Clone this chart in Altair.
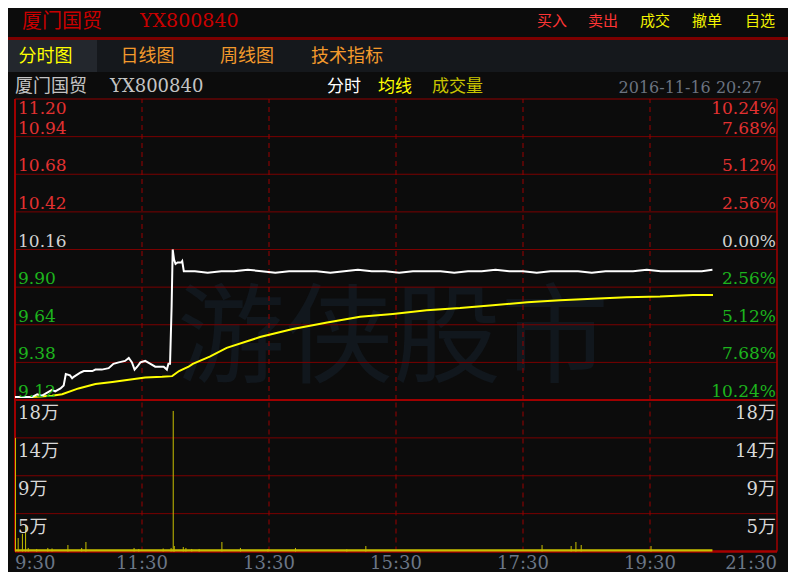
import altair as alt
import pandas as pd

# ---- values (time = minutes after 9:30) ----
stock_name = "厦门国贸"
stock_code = "YX800840"
actions = ["买入", "卖出", "成交", "撤单", "自选"]
tabs = ["分时图", "日线图", "周线图", "技术指标"]
legend_items = ["分时", "均线", "成交量"]
stamp = "2016-11-16 20:27"
watermark = "游侠股市"

price_min = [0, 16, 21, 25.5, 28, 35, 38, 43, 46, 48, 52, 54, 55.5, 62, 65, 73, 76,
             82, 88.5, 93, 98, 104, 107.5, 110.5, 113, 115.5, 118.5, 123, 128, 132.5,
             140.5, 143.5, 145, 146.5, 148, 149, 150.3, 151.7, 153.6, 157, 158, 159.5,
             170, 182, 195, 207, 220, 233, 246, 259, 272, 285, 298, 311, 324, 337,
             350, 363, 376, 389, 402, 415, 428, 441, 454, 467, 480, 493, 506, 519,
             532, 545, 558, 571, 584, 597, 610, 623, 636, 649, 659]
price_val = [9.14, 9.14, 9.16, 9.15, 9.16, 9.19, 9.18, 9.20, 9.22, 9.30, 9.29, 9.27,
             9.28, 9.31, 9.32, 9.32, 9.33, 9.33, 9.34, 9.37, 9.38, 9.39, 9.41, 9.38,
             9.33, 9.35, 9.38, 9.39, 9.37, 9.35, 9.35, 9.33, 9.37, 9.37, 9.77, 10.16,
             10.09, 10.06, 10.07, 10.07, 10.08, 10.01,
             10.01, 10.00, 10.01, 10.01, 10.02, 10.01, 10.00, 10.01, 10.01, 10.01,
             10.00, 10.01, 10.02, 10.01, 10.01, 10.00, 10.01, 10.01, 10.01, 10.00,
             10.01, 10.01, 10.02, 10.01, 10.01, 10.00, 10.01, 10.01, 10.01, 10.00,
             10.01, 10.01, 10.01, 10.02, 10.01, 10.01, 10.01, 10.01, 10.02]

avg_min = [0, 16, 35, 44.5, 60, 76, 92, 107.5, 123, 139, 148.5, 155, 164, 168, 184,
           200, 231.5, 262.5, 295, 326, 357, 389, 420.5, 451.5, 484, 515, 546, 578,
           609.5, 640.5, 659.5]
avg_val = [9.14, 9.14, 9.15, 9.16, 9.20, 9.23, 9.245, 9.26, 9.275, 9.28, 9.285, 9.32,
           9.35, 9.37, 9.42, 9.48, 9.555, 9.61, 9.655, 9.695, 9.715, 9.74, 9.755,
           9.775, 9.795, 9.81, 9.82, 9.83, 9.835, 9.845, 9.845]

vol_min = [0.5, 3, 7, 10, 12.5, 20.5, 31, 35, 50, 63, 67, 112.5, 117, 140, 147.5,
           149.5, 150.5, 159, 161.5, 167, 174, 195.5, 213, 239, 265, 313.5, 331.5,
           498, 525.5, 530, 535, 601]
vol_val = [135000, 16000, 21000, 31500, 4200, 3000, 4200, 3600, 7700, 4200, 11300,
           4200, 3000, 3600, 4200, 167000, 6500, 5300, 4200, 3000, 3000, 11300, 4200,
           3000, 4200, 2600, 6500, 7700, 6500, 11300, 7700, 6500]
base_span = [0, 659]      # every minute traded a little
base_vol = 2800

price_ticks = [9.12, 9.38, 9.64, 9.90, 10.16, 10.42, 10.68, 10.94, 11.20]
pct_labels = ["10.24%", "7.68%", "5.12%", "2.56%", "0.00%",
              "2.56%", "5.12%", "7.68%", "10.24%"]
prev_close = 10.16
vol_ticks = [45000, 90000, 135000, 180000]
vol_labels = ["5万", "9万", "14万", "18万"]
time_ticks = [0, 120, 240, 360, 480, 600, 720]
time_labels = ["9:30", "11:30", "13:30", "15:30", "17:30", "19:30", "21:30"]

# ---- styling ----
CJK = "Noto Sans CJK SC"
NUM = "DejaVu Serif"
RED, GREEN, GREY = "#e23131", "#1db41d", "#d2d2d2"
GRID, FRAME = "#7a0000", "#a00000"

XS = alt.Scale(domain=[time_ticks[0], time_ticks[-1]], range=[7, 769], nice=False, zero=False)
PS = alt.Scale(domain=[price_ticks[0], price_ticks[-1]], range=[392, 91], nice=False, zero=False)
VS = alt.Scale(domain=[0, vol_ticks[-1]], range=[543.5, 392], nice=False, zero=False)


def X(f):
    return alt.X(f, type="quantitative", scale=XS, axis=None)


def PY(f):
    return alt.Y(f, type="quantitative", scale=PS, axis=None)


def VY(f):
    return alt.Y(f, type="quantitative", scale=VS, axis=None)


def label(s, x, y, color, size, font=CJK, align="left", weight="normal"):
    return alt.Chart(pd.DataFrame({"s": [s]})).mark_text(
        align=align, baseline="middle", color=color, fontSize=size, font=font,
        fontWeight=weight).encode(x=alt.value(x), y=alt.value(y), text="s:N")


def band(x0, x1, y0, y1, color):
    return alt.Chart(pd.DataFrame({"k": [0]})).mark_rect(color=color).encode(
        x=alt.value(x0), x2=alt.value(x1), y=alt.value(y0), y2=alt.value(y1))


pgrid = pd.DataFrame({"p": price_ticks, "pct": pct_labels,
                      "c": [RED if p > prev_close else GREEN if p < prev_close else GREY
                            for p in price_ticks],
                      "a": time_ticks[0], "b": time_ticks[-1]})
vgrid = pd.DataFrame({"v": vol_ticks, "lab": vol_labels,
                      "a": time_ticks[0], "b": time_ticks[-1]})
tdf = pd.DataFrame({"m": time_ticks, "lab": time_labels,
                    "p0": price_ticks[0], "p1": price_ticks[-1],
                    "v0": 0, "v1": vol_ticks[-1]})
price_df = pd.DataFrame({"m": price_min, "p": price_val})
avg_df = pd.DataFrame({"m": avg_min, "p": avg_val})
vol_df = pd.DataFrame({"m": vol_min, "v": vol_val, "z": 0})
base_df = pd.DataFrame({"a": [base_span[0]], "b": [base_span[1]], "z": [0], "v": [base_vol]})

layers = [
    band(0, 780, 29, 32, "#7d0000"),
    band(0, 780, 32, 64, "#15181c"),
    band(0, 89, 32, 64, "#23272d"),
    label(stock_name, 14, 14, "#c80000", 20),
    label(stock_code, 132, 13, "#c80000", 19, font=NUM),
]
for s, cx, col in zip(actions, [544, 595, 647, 699, 752],
                      ["#ff3535", "#ff3535", "#f2f200", "#f2f200", "#f2f200"]):
    layers.append(label(s, cx, 13, col, 15, align="center"))
for i, (s, cx) in enumerate(zip(tabs, [37.5, 139.5, 239, 339])):
    layers.append(label(s, cx, 49, "#ffff00" if i == 0 else "#f39a2c", 18, align="center"))
layers += [
    label(stock_name, 7, 79, "#c4c4c4", 18),
    label(stock_code, 102, 79, "#c4c4c4", 18, font=NUM),
    label(legend_items[0], 319, 79, "#ffffff", 17),
    label(legend_items[1], 370, 79, "#ffff00", 17),
    label(legend_items[2], 424, 79, "#c8c400", 17),
    label(stamp, 754, 80, "#6b7380", 16, font=NUM, align="right"),
    label(watermark, 385, 334, "#11171d", 108, align="center"),
]

# grid, dashed time lines and frame
layers += [
    alt.Chart(pgrid).mark_rule(color=GRID, strokeWidth=1).encode(
        x=X("a"), x2="b", y=PY("p")).transform_filter(
        f"datum.p > {price_ticks[0]} && datum.p < {price_ticks[-1]}"),
    alt.Chart(pgrid).mark_rule(color="#8f0000", strokeWidth=1.2).encode(
        x=X("a"), x2="b", y=PY("p")).transform_filter(f"datum.p >= {price_ticks[-1]}"),
    alt.Chart(vgrid).mark_rule(color=GRID, strokeWidth=1).encode(
        x=X("a"), x2="b", y=VY("v")).transform_filter(f"datum.v < {vol_ticks[-1]}"),
    alt.Chart(tdf).mark_rule(color="#9a0000", strokeWidth=1, strokeDash=[5, 4]).encode(
        x=X("m"), y=PY("p0"), y2="p1").transform_filter(
        f"datum.m > {time_ticks[0]} && datum.m < {time_ticks[-1]}"),
    alt.Chart(tdf).mark_rule(color="#9a0000", strokeWidth=1, strokeDash=[5, 4]).encode(
        x=X("m"), y=VY("v0"), y2="v1").transform_filter(
        f"datum.m > {time_ticks[0]} && datum.m < {time_ticks[-1]}"),
    alt.Chart(tdf).mark_rule(color=FRAME, strokeWidth=2).encode(
        x=X("m"), y=PY("p0"), y2="p1").transform_filter(f"datum.m == {time_ticks[0]}"),
    alt.Chart(tdf).mark_rule(color=FRAME, strokeWidth=2).encode(
        x=X("m"), y=VY("v0"), y2="v1").transform_filter(f"datum.m == {time_ticks[0]}"),
    alt.Chart(tdf).mark_rule(color=FRAME, strokeWidth=1.5).encode(
        x=X("m"), y=PY("p0"), y2="p1").transform_filter(f"datum.m == {time_ticks[-1]}"),
    alt.Chart(tdf).mark_rule(color=FRAME, strokeWidth=1.5).encode(
        x=X("m"), y=VY("v0"), y2="v1").transform_filter(f"datum.m == {time_ticks[-1]}"),
    alt.Chart(vgrid.assign(v=0)).mark_rule(color="#a80000", strokeWidth=2.5).encode(
        x=X("a"), x2="b", y=VY("v")).transform_filter("datum.lab == '18万'"),
]

# volume
layers += [
    alt.Chart(base_df).mark_rect(color="#c8c000").encode(
        x=X("a"), x2="b", y=VY("z"), y2="v"),
    alt.Chart(vol_df).mark_rule(color="#c8c000", strokeWidth=1).encode(
        x=X("m"), y=VY("v"), y2="z"),
    alt.Chart(pgrid).mark_rule(color=FRAME, strokeWidth=2).encode(
        x=X("a"), x2="b", y=PY("p")).transform_filter(f"datum.p <= {price_ticks[0]}"),
]

# price and average lines
layers += [
    alt.Chart(avg_df).mark_line(color="#ffff00", strokeWidth=2).encode(
        x=X("m"), y=PY("p")),
    alt.Chart(price_df).mark_line(color="#ffffff", strokeWidth=2).encode(
        x=X("m"), y=PY("p")),
]

# axis labels drawn inside the panels
num = dict(font=NUM, fontSize=17, baseline="alphabetic")
top = price_ticks[-1]
layers += [
    alt.Chart(pgrid).mark_text(align="left", dy=-3, **num).encode(
        x=alt.value(10), y=PY("p"), text=alt.Text("p:Q", format=".2f"),
        color=alt.Color("c:N", scale=None)).transform_filter(f"datum.p < {top}"),
    alt.Chart(pgrid).mark_text(align="left", dy=15, **num).encode(
        x=alt.value(10), y=PY("p"), text=alt.Text("p:Q", format=".2f"),
        color=alt.Color("c:N", scale=None)).transform_filter(f"datum.p >= {top}"),
    alt.Chart(pgrid).mark_text(align="right", dy=-3, **num).encode(
        x=alt.value(768), y=PY("p"), text="pct:N",
        color=alt.Color("c:N", scale=None)).transform_filter(f"datum.p < {top}"),
    alt.Chart(pgrid).mark_text(align="right", dy=15, **num).encode(
        x=alt.value(768), y=PY("p"), text="pct:N",
        color=alt.Color("c:N", scale=None)).transform_filter(f"datum.p >= {top}"),
    alt.Chart(vgrid).mark_text(align="left", dy=19, color="#d8d8d8", font=f"{NUM}, {CJK}",
                               fontSize=18, baseline="alphabetic").encode(
        x=alt.value(10), y=VY("v"), text="lab:N"),
    alt.Chart(vgrid).mark_text(align="right", dy=19, color="#d8d8d8", font=f"{NUM}, {CJK}",
                               fontSize=18, baseline="alphabetic").encode(
        x=alt.value(768), y=VY("v"), text="lab:N"),
]
tnum = dict(font=NUM, fontSize=18, baseline="middle", color="#6b7686")
layers += [
    alt.Chart(tdf).mark_text(align="left", **tnum).encode(
        x=X("m"), y=alt.value(556), text="lab:N").transform_filter(
        f"datum.m == {time_ticks[0]}"),
    alt.Chart(tdf).mark_text(align="center", **tnum).encode(
        x=X("m"), y=alt.value(556), text="lab:N").transform_filter(
        f"datum.m > {time_ticks[0]} && datum.m < {time_ticks[-1]}"),
    alt.Chart(tdf).mark_text(align="right", **tnum).encode(
        x=X("m"), y=alt.value(556), text="lab:N").transform_filter(
        f"datum.m == {time_ticks[-1]}"),
]

# 780x564 is the whole window less the page's 8px margin
chart = alt.layer(*layers).resolve_scale(y="independent").properties(
    width=780, height=564, padding=0, autosize="none", background="#0c0c0c"
).configure_view(stroke="transparent")

chart.save("out.html", embed_options={"renderer": "svg", "actions": False})
